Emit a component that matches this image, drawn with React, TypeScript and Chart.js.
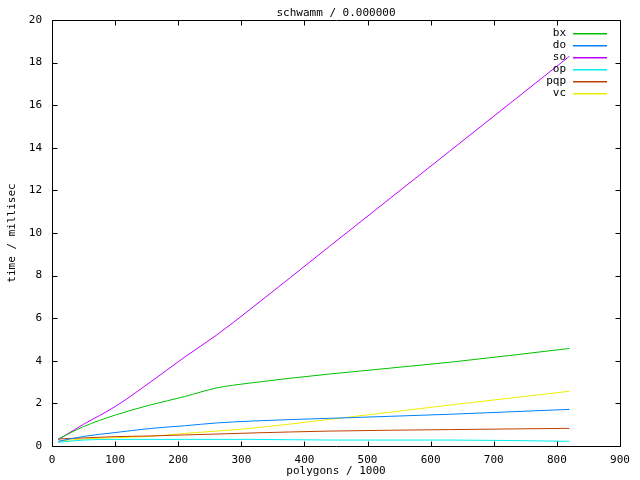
import React, { useEffect, useRef } from "react";
import { Chart, registerables } from "chart.js";

Chart.register(...registerables);

const xs = [10, 50, 100, 155, 210, 260, 315, 440, 630, 820];
const seriesNames = ["bx", "do", "so", "op", "pqp", "vc"];
const bx = [0.33, 0.91, 1.45, 1.92, 2.32, 2.72, 2.96, 3.38, 3.93, 4.58];
const doS = [0.22, 0.45, 0.63, 0.82, 0.95, 1.08, 1.17, 1.3, 1.49, 1.72];
const so = [0.3, 1.02, 1.85, 2.98, 4.17, 5.19, 6.44, 9.38, 13.84, 18.3];
const op = [0.17, 0.28, 0.31, 0.31, 0.31, 0.31, 0.31, 0.28, 0.28, 0.22];
const pqp = [0.33, 0.38, 0.44, 0.47, 0.52, 0.56, 0.61, 0.7, 0.77, 0.83];
const vc = [0.23, 0.33, 0.39, 0.45, 0.59, 0.7, 0.83, 1.25, 1.92, 2.57];
const colors = ["#00c000", "#0080ff", "#c000ff", "#00eeee", "#c04000", "#eeee00"];
const xTicks = [0, 100, 200, 300, 400, 500, 600, 700, 800, 900];
const yTicks = [0, 2, 4, 6, 8, 10, 12, 14, 16, 18, 20];
const titleText = "schwamm / 0.000000";
const xLabel = "polygons / 1000";
const yLabel = "time / millisec";

const FONT = "'DejaVu Sans Mono', 'Liberation Mono', monospace";
const FS = 11;

const framePlugin = {
  id: "gnuframe",
  afterDraw(chart: any) {
    const { ctx, chartArea } = chart;
    const { left, right, top, bottom } = chartArea;
    const xs_ = chart.scales.x;
    const ys_ = chart.scales.y;
    ctx.save();
    ctx.strokeStyle = "#000";
    ctx.lineWidth = 1;
    const L = Math.round(left) + 0.5;
    const R = Math.round(right) + 0.5;
    const T = Math.round(top) + 0.5;
    const B = Math.round(bottom) + 0.5;
    ctx.beginPath();
    ctx.rect(L, T, R - L, B - T);
    const tl = 5;
    xTicks.forEach((v) => {
      const p = Math.round(xs_.getPixelForValue(v)) + 0.5;
      ctx.moveTo(p, B);
      ctx.lineTo(p, B - tl);
      ctx.moveTo(p, T);
      ctx.lineTo(p, T + tl);
    });
    yTicks.forEach((v) => {
      const p = Math.round(ys_.getPixelForValue(v)) + 0.5;
      ctx.moveTo(L, p);
      ctx.lineTo(L + tl, p);
      ctx.moveTo(R, p);
      ctx.lineTo(R - tl, p);
    });
    ctx.stroke();

    ctx.fillStyle = "#000";
    ctx.font = `${FS}px ${FONT}`;
    ctx.textBaseline = "middle";
    ctx.textAlign = "center";
    const cx = (left + right) / 2;
    ctx.fillText(titleText, cx, 13);
    ctx.fillText(xLabel, cx, 471);
    ctx.save();
    ctx.translate(12, (top + bottom) / 2);
    ctx.rotate(-Math.PI / 2);
    ctx.fillText(yLabel, 0, 0);
    ctx.restore();

    seriesNames.forEach((name, i) => {
      const yy = Math.round(top + 13 + 12 * i);
      ctx.textAlign = "right";
      ctx.fillStyle = "#000";
      ctx.fillText(name, right - 54, yy);
      ctx.fillStyle = colors[i];
      ctx.fillRect(Math.round(right - 47), yy, 34, 1.5);
    });
    ctx.restore();
  },
};

export default function App() {
  const ref = useRef<HTMLCanvasElement | null>(null);
  useEffect(() => {
    if (!ref.current) return;
    const all = [bx, doS, so, op, pqp, vc];
    const chart = new Chart(ref.current, {
      type: "line",
      data: {
        datasets: all.map((vals, i) => ({
          label: seriesNames[i],
          data: xs.map((x, j) => ({ x, y: vals[j] })),
          borderColor: colors[i],
          backgroundColor: colors[i],
          borderWidth: 1,
          pointRadius: 0,
          fill: false,
          cubicInterpolationMode: "monotone" as const,
        })),
      },
      options: {
        responsive: false,
        animation: false,
        layout: { padding: { top: 20, right: 20, left: 0, bottom: 0 } },
        plugins: { legend: { display: false }, tooltip: { enabled: false }, title: { display: false } },
        scales: {
          x: {
            type: "linear",
            min: 0,
            max: 900,
            grid: { display: false },
            border: { display: false },
            ticks: {
              stepSize: 100,
              maxRotation: 0,
              autoSkip: false,
              padding: 0,
              color: "#000",
              font: { family: FONT, size: FS },
            },
            afterFit: (s: any) => {
              s.height = 34;
            },
          },
          y: {
            type: "linear",
            min: 0,
            max: 20,
            grid: { display: false },
            border: { display: false },
            ticks: {
              stepSize: 2,
              autoSkip: false,
              padding: 2,
              color: "#000",
              font: { family: FONT, size: FS },
            },
            afterFit: (s: any) => {
              s.width = 52;
            },
          },
        },
      },
      plugins: [framePlugin],
    });
    return () => chart.destroy();
  }, []);
  return (
    <div style={{ position: "absolute", left: 0, top: 0, width: 640, height: 480, background: "#fff" }}>
      <canvas ref={ref} width={640} height={480} />
    </div>
  );
}
